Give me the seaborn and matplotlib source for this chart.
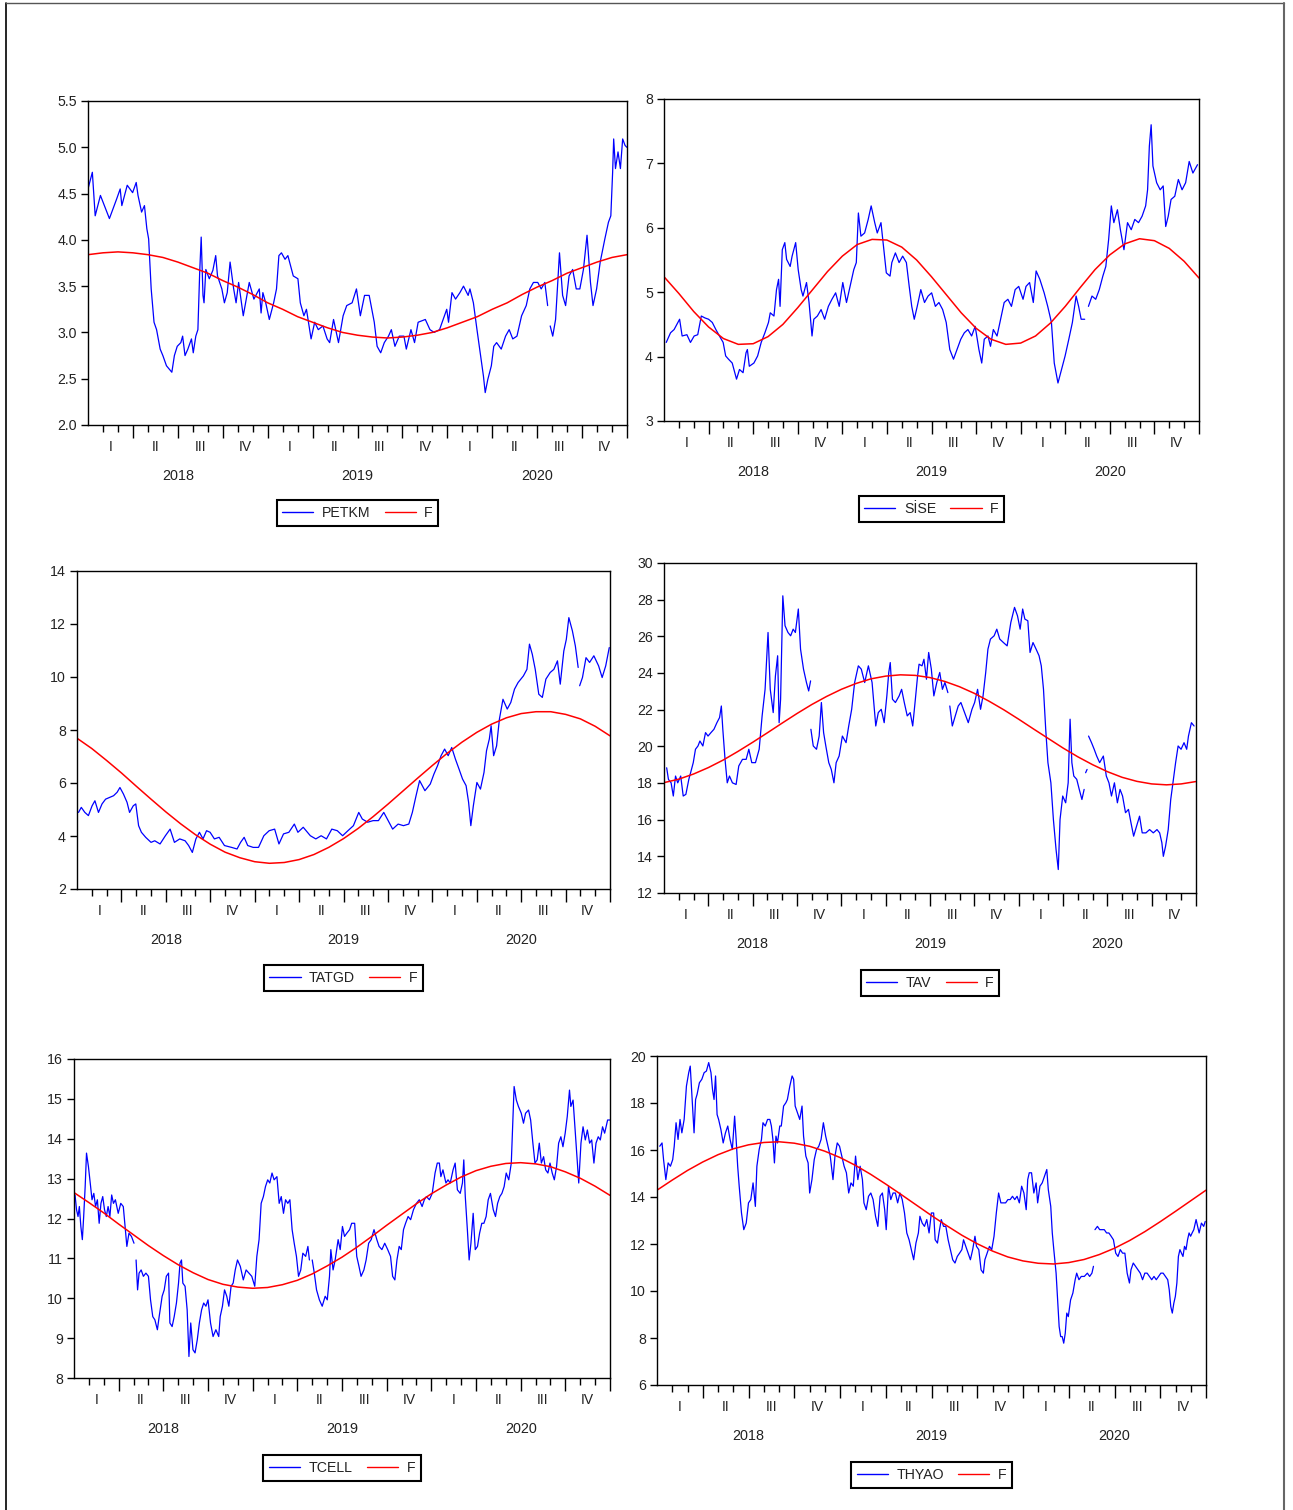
import numpy as np
import pandas as pd
import matplotlib
matplotlib.use("Agg")
import matplotlib.pyplot as plt
import seaborn as sns
from matplotlib.lines import Line2D

nan = np.nan

# time axis in months from Jan 2018 (0) to end of 2020 (36)
months = list(range(37))
quarter_labels = ["I", "II", "III", "IV"] * 3
year_labels = ["2018", "2019", "2020"]

# ---- PETKM ----
petkm_t = [0, 0.29, 0.48, 0.83, 1.19, 1.43, 1.91, 2.15, 2.26, 2.62,
           2.98, 3.22, 3.34, 3.58, 3.77, 3.93, 4.05, 4.22, 4.41, 4.58,
           4.82, 5.0, 5.24, 5.6, 5.77, 5.96, 6.2, 6.32, 6.48, 6.67,
           6.91, 7.03, 7.2, 7.34, 7.46, 7.56, 7.68, 7.75, 7.87, 8.1,
           8.34, 8.53, 8.65, 8.94, 9.11, 9.3, 9.49, 9.73, 9.89, 10.06,
           10.37, 10.61, 10.77, 11.08, 11.44, 11.56, 11.68, 11.87, 12.11, 12.4,
           12.59, 12.75, 12.92, 13.16, 13.35, 13.71, 14.02, 14.18, 14.42, 14.59,
           14.9, 15.14, 15.38, 15.69, 15.97, 16.14, 16.4, 16.73, 17.04, 17.28,
           17.64, 17.93, 18.19, 18.47, 18.78, 19.12, 19.31, 19.55, 19.79, 20.07,
           20.26, 20.5, 20.79, 21.1, 21.26, 21.57, 21.81, 22.05, 22.53, 22.84,
           23.12, 23.48, 23.72, 23.96, 24.08, 24.31, 24.55, 24.84, 25.08, 25.39,
           25.51, 25.74, 25.98, 26.22, 26.41, 26.53, 26.7, 26.94, 27.1, 27.29,
           27.6, 27.89, 28.13, 28.37, 28.65, 28.96, 29.27, 29.51, 29.75, 30.04,
           30.27, 30.51, 30.7, 30.78, 30.87, 31.04, 31.23, 31.39, 31.49, 31.7,
           31.9, 32.13, 32.37, 32.61, 32.85, 33.09, 33.33, 33.56, 33.73, 33.97,
           34.21, 34.52, 34.76, 34.92, 35.04, 35.11, 35.23, 35.4, 35.56, 35.71,
           35.87, 35.99]
petkm = [4.55, 4.73, 4.26, 4.48, 4.33, 4.23, 4.44, 4.55, 4.37, 4.59,
         4.51, 4.62, 4.48, 4.30, 4.37, 4.12, 4.01, 3.47, 3.11, 3.03,
         2.82, 2.75, 2.64, 2.57, 2.75, 2.85, 2.89, 2.96, 2.75, 2.82,
         2.93, 2.78, 2.96, 3.03, 3.65, 4.03, 3.40, 3.32, 3.68, 3.58,
         3.67, 3.83, 3.61, 3.47, 3.32, 3.43, 3.76, 3.47, 3.32, 3.54,
         3.18, 3.40, 3.54, 3.36, 3.47, 3.21, 3.43, 3.32, 3.14, 3.32,
         3.47, 3.83, 3.86, 3.79, 3.83, 3.61, 3.58, 3.32, 3.18, 3.25,
         2.93, 3.11, 3.03, 3.07, 2.93, 2.89, 3.14, 2.89, 3.18, 3.29,
         3.32, 3.47, 3.18, 3.40, 3.40, 3.11, 2.85, 2.78, 2.89, 2.96,
         3.03, 2.85, 2.96, 2.96, 2.82, 3.03, 2.89, 3.11, 3.14, 3.03,
         3.00, 3.03, 3.14, 3.25, 3.11, 3.43, 3.36, 3.43, 3.50, 3.40,
         3.47, 3.32, 3.03, 2.75, 2.53, 2.35, 2.49, 2.64, 2.85, 2.89,
         2.82, 2.96, 3.03, 2.93, 2.96, 3.18, 3.29, 3.47, 3.54, 3.54,
         3.47, 3.54, 3.29, nan, 3.07, 2.96, 3.14, 3.58, 3.86, 3.40,
         3.29, 3.61, 3.68, 3.47, 3.47, 3.68, 4.05, 3.54, 3.29, 3.47,
         3.76, 4.01, 4.19, 4.26, 4.73, 5.09, 4.77, 4.95, 4.77, 5.09,
         5.02, 5.00]
petkm_f = [3.84, 3.86, 3.87, 3.86, 3.84, 3.81, 3.76, 3.70, 3.64, 3.56,
           3.49, 3.41, 3.32, 3.25, 3.17, 3.11, 3.05, 3.00, 2.97, 2.95,
           2.94, 2.95, 2.97, 3.00, 3.05, 3.11, 3.17, 3.25, 3.32, 3.41,
           3.49, 3.56, 3.64, 3.70, 3.76, 3.81, 3.84]

# ---- SISE ----
sise_t = [0.15, 0.44, 0.68, 0.93, 1.05, 1.22, 1.54, 1.78, 2.03, 2.27,
          2.51, 2.76, 3.0, 3.25, 3.49, 3.73, 3.98, 4.15, 4.34, 4.59,
          4.88, 5.08, 5.32, 5.52, 5.61, 5.74, 6.05, 6.3, 6.54, 6.79,
          7.03, 7.15, 7.4, 7.57, 7.71, 7.81, 7.96, 8.13, 8.25, 8.49,
          8.62, 8.86, 9.03, 9.23, 9.35, 9.59, 9.76, 9.96, 10.08, 10.32,
          10.57, 10.81, 11.06, 11.3, 11.55, 11.79, 12.03, 12.28, 12.52, 12.77,
          12.94, 13.08, 13.25, 13.5, 13.74, 13.94, 14.18, 14.35, 14.6, 14.79,
          14.96, 15.21, 15.33, 15.57, 15.82, 16.06, 16.31, 16.5, 16.67, 16.84,
          17.04, 17.28, 17.53, 17.77, 18.01, 18.26, 18.5, 18.75, 18.99, 19.23,
          19.48, 19.72, 19.97, 20.21, 20.45, 20.7, 20.94, 21.19, 21.38, 21.55,
          21.8, 21.97, 22.16, 22.41, 22.65, 22.89, 23.14, 23.38, 23.63, 23.87,
          24.16, 24.36, 24.6, 24.85, 25.04, 25.29, 25.58, 25.82, 26.07, 26.26,
          26.51, 26.75, 26.99, 27.24, 27.48, 27.73, 27.9, 28.07, 28.31, 28.43, 28.56,
          28.8, 29.05, 29.29, 29.53, 29.73, 29.92, 30.1, 30.27, 30.51, 30.71,
          30.95, 31.19, 31.44, 31.68, 31.93, 32.17, 32.41, 32.54, 32.66, 32.78,
          32.9, 33.15, 33.39, 33.59, 33.76, 33.93, 34.12, 34.37, 34.61, 34.86,
          35.1, 35.34, 35.59, 35.9]
sise = [4.22, 4.37, 4.42, 4.53, 4.58, 4.32, 4.34, 4.22, 4.32, 4.34,
        4.63, 4.60, 4.58, 4.53, 4.42, 4.32, 4.22, 4.01, 3.96, 3.90,
        3.65, 3.80, 3.75, 4.06, 4.11, 3.85, 3.90, 4.01, 4.22, 4.37,
        4.53, 4.68, 4.63, 5.04, 5.20, 4.78, 5.66, 5.77, 5.51, 5.40,
        5.56, 5.77, 5.35, 5.04, 4.94, 5.15, 4.84, 4.32, 4.58, 4.63,
        4.73, 4.58, 4.78, 4.89, 4.99, 4.78, 5.15, 4.84, 5.09, 5.35,
        5.46, 6.23, 5.87, 5.92, 6.13, 6.34, 6.08, 5.92, 6.08, 5.66,
        5.30, 5.25, 5.46, 5.61, 5.46, 5.56, 5.46, 5.09, 4.78, 4.58,
        4.78, 5.04, 4.84, 4.94, 4.99, 4.78, 4.84, 4.73, 4.53, 4.11,
        3.96, 4.11, 4.27, 4.37, 4.42, 4.32, 4.47, 4.11, 3.90, 4.27,
        4.32, 4.16, 4.42, 4.32, 4.58, 4.84, 4.89, 4.78, 5.04, 5.09,
        4.89, 5.09, 5.15, 4.84, 5.33, 5.20, 4.99, 4.78, 4.53, 3.90,
        3.59, 3.80, 4.01, 4.27, 4.53, 4.94, 4.78, 4.58, 4.58, nan, 4.78,
        4.94, 4.89, 5.04, 5.25, 5.40, 5.82, 6.34, 6.08, 6.28, 5.97,
        5.66, 6.08, 5.97, 6.13, 6.08, 6.18, 6.34, 6.59, 7.27, 7.60,
        6.96, 6.70, 6.59, 6.65, 6.02, 6.18, 6.44, 6.49, 6.75, 6.59,
        6.70, 7.03, 6.85, 6.98]
sise_f = [5.24, 4.98, 4.70, 4.46, 4.28, 4.19, 4.20, 4.31, 4.50, 4.76,
          5.04, 5.32, 5.56, 5.74, 5.82, 5.81, 5.70, 5.50, 5.24, 4.96,
          4.68, 4.44, 4.27, 4.19, 4.21, 4.32, 4.52, 4.78, 5.07, 5.35,
          5.58, 5.75, 5.83, 5.80, 5.68, 5.48, 5.22]

# ---- TATGD ----
tatgd_t = [0.1, 0.29, 0.53, 0.77, 1.02, 1.21, 1.45, 1.69, 1.93, 2.22,
           2.47, 2.71, 2.9, 3.14, 3.38, 3.55, 3.8, 3.97, 4.16, 4.35,
           4.64, 5.0, 5.25, 5.61, 5.97, 6.29, 6.58, 6.94, 7.3, 7.54,
           7.79, 8.03, 8.27, 8.51, 8.75, 8.99, 9.28, 9.6, 9.96, 10.44,
           10.81, 11.05, 11.29, 11.53, 11.9, 12.26, 12.62, 12.98, 13.35, 13.64,
           13.95, 14.31, 14.68, 14.92, 15.28, 15.76, 16.13, 16.49, 16.85, 17.21,
           17.58, 17.94, 18.3, 18.67, 19.03, 19.27, 19.63, 20.0, 20.36, 20.72,
           20.96, 21.32, 21.69, 22.05, 22.41, 22.65, 22.9, 23.14, 23.5, 23.86,
           24.11, 24.35, 24.59, 24.83, 25.07, 25.31, 25.56, 25.8, 26.04, 26.28,
           26.45, 26.6, 26.77, 27.01, 27.25, 27.49, 27.66, 27.85, 27.97, 28.14,
           28.34, 28.53, 28.77, 29.06, 29.3, 29.55, 29.79, 30.15, 30.39, 30.56,
           30.75, 30.95, 31.19, 31.43, 31.67, 31.96, 32.21, 32.45, 32.64, 32.88,
           33.05, 33.22, 33.46, 33.66, 33.85, 33.9, 33.95, 34.14, 34.38, 34.62, 34.91,
           35.23, 35.47, 35.71, 35.95]
tatgd = [4.89, 5.08, 4.89, 4.77, 5.14, 5.33, 4.89, 5.21, 5.39, 5.46,
         5.52, 5.65, 5.83, 5.58, 5.27, 4.89, 5.14, 5.21, 4.39, 4.14,
         3.95, 3.76, 3.82, 3.70, 4.01, 4.26, 3.76, 3.89, 3.82, 3.64,
         3.38, 3.89, 4.14, 3.89, 4.20, 4.14, 3.89, 3.95, 3.64, 3.57,
         3.51, 3.76, 3.95, 3.64, 3.57, 3.57, 4.01, 4.20, 4.26, 3.70,
         4.08, 4.14, 4.45, 4.14, 4.33, 4.01, 3.89, 4.01, 3.89, 4.26,
         4.20, 4.01, 4.20, 4.39, 4.89, 4.64, 4.52, 4.58, 4.58, 4.89,
         4.64, 4.26, 4.45, 4.39, 4.45, 4.89, 5.52, 6.09, 5.71, 5.96,
         6.34, 6.65, 7.03, 7.28, 7.03, 7.34, 6.90, 6.53, 6.15, 5.90,
         5.27, 4.39, 5.14, 6.02, 5.77, 6.40, 7.22, 7.66, 8.16, 7.03,
         7.40, 8.41, 9.16, 8.79, 9.04, 9.54, 9.79, 10.04, 10.29, 11.24,
         10.86, 10.29, 9.35, 9.23, 9.92, 10.17, 10.29, 10.61, 9.73, 10.98,
         11.42, 12.24, 11.74, 11.17, 10.36, nan, 9.67, 9.98, 10.73, 10.55, 10.80,
         10.42, 9.98, 10.42, 11.11]
tatgd_f = [7.69, 7.30, 6.85, 6.38, 5.88, 5.39, 4.91, 4.46, 4.05, 3.69,
           3.39, 3.18, 3.03, 2.97, 3.00, 3.11, 3.30, 3.57, 3.90, 4.29,
           4.73, 5.20, 5.69, 6.18, 6.66, 7.12, 7.54, 7.91, 8.22, 8.46,
           8.62, 8.69, 8.69, 8.59, 8.42, 8.14, 7.78]

# ---- TAV ----
tav_t = [0.18, 0.3, 0.48, 0.63, 0.78, 0.93, 1.13, 1.3, 1.48, 1.68,
         1.8, 1.98, 2.13, 2.3, 2.43, 2.63, 2.81, 2.98, 3.18, 3.38,
         3.58, 3.76, 3.88, 3.98, 4.13, 4.28, 4.43, 4.63, 4.88, 5.06,
         5.31, 5.56, 5.74, 5.94, 6.19, 6.44, 6.64, 6.84, 7.04, 7.19,
         7.39, 7.54, 7.69, 7.79, 7.89, 8.04, 8.19, 8.39, 8.57, 8.74,
         8.89, 9.09, 9.24, 9.44, 9.64, 9.79, 9.92, 9.93, 9.94, 10.1,
         10.32, 10.5, 10.65, 10.8, 10.95, 11.15, 11.32, 11.5, 11.65, 11.85,
         12.07, 12.32, 12.5, 12.7, 12.9, 13.15, 13.35, 13.58, 13.83, 14.08,
         14.33, 14.5, 14.7, 14.9, 15.08, 15.21, 15.31, 15.46, 15.66, 15.91,
         16.08, 16.26, 16.46, 16.66, 16.83, 17.01, 17.16, 17.26, 17.46, 17.59,
         17.76, 17.91, 18.09, 18.26, 18.46, 18.66, 18.84, 19.01, 19.21, 19.28,
         19.34, 19.51, 19.71, 19.91, 20.09, 20.34, 20.59, 20.84, 21.02, 21.22,
         21.42, 21.59, 21.77, 21.92, 22.09, 22.34, 22.52, 22.72, 22.97, 23.22,
         23.47, 23.72, 23.92, 24.1, 24.27, 24.42, 24.62, 24.77, 24.97, 25.18,
         25.38, 25.53, 25.68, 25.83, 25.98, 26.18, 26.35, 26.53, 26.68, 26.8,
         26.98, 27.18, 27.35, 27.48, 27.6, 27.73, 27.93, 28.1, 28.28, 28.43,
         28.48, 28.53, 28.63, 28.68, 28.73, 28.93, 29.11, 29.28, 29.48, 29.73,
         29.93, 30.11, 30.28, 30.48, 30.68, 30.86, 31.03, 31.23, 31.43, 31.6,
         31.78, 31.98, 32.18, 32.36, 32.61, 32.86, 33.11, 33.36, 33.54, 33.69,
         33.79, 33.94, 34.12, 34.29, 34.44, 34.62, 34.79, 34.99, 35.19, 35.37,
         35.49, 35.69, 35.87]
tav = [18.83, 18.20, 18.01, 17.29, 18.38, 18.01, 18.38, 17.29, 17.38, 18.20,
       18.56, 19.11, 19.84, 20.02, 20.29, 20.02, 20.75, 20.56, 20.75, 20.93,
       21.29, 21.57, 22.20, 20.93, 19.29, 18.01, 18.38, 18.01, 17.92, 18.93,
       19.29, 19.29, 19.84, 19.11, 19.11, 19.84, 21.66, 23.11, 26.21, 23.11,
       21.84, 23.84, 24.94, 21.29, 22.57, 28.21, 26.58, 26.21, 26.03, 26.39,
       26.21, 27.49, 25.30, 24.21, 23.48, 23.02, 23.57, nan, 20.93, 20.02,
       19.84, 20.56, 22.39, 20.75, 20.02, 19.11, 18.74, 18.01, 19.11, 19.47,
       20.56, 20.20, 21.11, 22.02, 23.48, 24.39, 24.21, 23.48, 24.39, 23.48,
       21.11, 21.84, 22.02, 21.29, 22.75, 24.03, 24.57, 22.57, 22.39, 22.75,
       23.11, 22.39, 21.66, 21.84, 21.11, 22.57, 23.84, 24.48, 24.39, 24.75,
       23.66, 25.12, 24.21, 22.75, 23.48, 24.03, 23.11, 23.48, 22.93, nan,
       22.20, 21.11, 21.66, 22.20, 22.39, 21.84, 21.29, 22.02, 22.39, 23.11,
       22.02, 22.75, 24.03, 25.30, 25.85, 26.03, 26.39, 25.85, 25.66, 25.48,
       26.76, 27.58, 27.12, 26.39, 27.49, 26.94, 26.85, 25.12, 25.66, 25.30,
       24.94, 24.39, 23.11, 20.93, 19.11, 18.01, 16.01, 14.37, 13.28, 16.01,
       17.29, 16.92, 18.01, 21.48, 19.11, 18.38, 18.20, 17.65, 17.10, 17.65,
       nan, 18.56, 18.74, nan, 20.56, 20.20, 19.84, 19.47, 19.11, 19.47,
       18.38, 18.01, 17.29, 18.01, 16.92, 17.65, 17.29, 16.38, 16.56, 15.83,
       15.10, 15.65, 16.19, 15.28, 15.28, 15.46, 15.28, 15.46, 15.28, 14.74,
       14.00, 14.55, 15.46, 17.10, 18.01, 19.11, 20.02, 19.84, 20.20, 19.84,
       20.56, 21.29, 21.11]
tav_f = [18.02, 18.21, 18.49, 18.84, 19.25, 19.72, 20.22, 20.74, 21.27, 21.79,
         22.28, 22.72, 23.11, 23.43, 23.68, 23.83, 23.90, 23.87, 23.75, 23.54,
         23.25, 22.89, 22.46, 21.99, 21.48, 20.95, 20.43, 19.91, 19.43, 19.00,
         18.62, 18.31, 18.09, 17.95, 17.90, 17.95, 18.08]

# ---- TCELL ----
tcell_t = [0.07, 0.17, 0.27, 0.36, 0.46, 0.56, 0.65, 0.75, 0.84, 0.97,
           1.09, 1.21, 1.33, 1.45, 1.57, 1.69, 1.81, 1.93, 2.05, 2.17,
           2.29, 2.41, 2.53, 2.65, 2.78, 2.97, 3.14, 3.31, 3.45, 3.55,
           3.69, 3.86, 4.03, 4.1, 4.17, 4.27, 4.37, 4.51, 4.66, 4.83,
           5.0, 5.14, 5.29, 5.43, 5.6, 5.72, 5.92, 6.06, 6.2, 6.35,
           6.44, 6.59, 6.73, 6.88, 7.02, 7.12, 7.22, 7.31, 7.46, 7.6,
           7.72, 7.84, 7.99, 8.13, 8.28, 8.42, 8.57, 8.71, 8.86, 9.0,
           9.17, 9.34, 9.53, 9.72, 9.82, 9.97, 10.11, 10.26, 10.4, 10.55,
           10.69, 10.83, 10.98, 11.17, 11.37, 11.56, 11.75, 11.94, 12.14, 12.28,
           12.43, 12.57, 12.72, 12.86, 13.01, 13.15, 13.3, 13.44, 13.63, 13.78,
           13.92, 14.07, 14.21, 14.36, 14.5, 14.65, 14.79, 14.94, 15.08, 15.23,
           15.37, 15.56, 15.71, 15.81, 15.9, 16.0, 16.14, 16.29, 16.48, 16.67,
           16.87, 17.01, 17.16, 17.25, 17.4, 17.54, 17.74, 17.88, 18.03, 18.17,
           18.32, 18.51, 18.65, 18.85, 18.99, 19.14, 19.28, 19.47, 19.62, 19.79,
           19.96, 20.15, 20.34, 20.49, 20.68, 20.87, 21.07, 21.26, 21.4, 21.55,
           21.69, 21.84, 21.98, 22.13, 22.27, 22.44, 22.61, 22.8, 23.0, 23.19,
           23.38, 23.53, 23.67, 23.87, 24.06, 24.25, 24.4, 24.54, 24.64, 24.78,
           24.98, 25.12, 25.27, 25.46, 25.6, 25.75, 25.94, 26.09, 26.18, 26.28,
           26.42, 26.54, 26.66, 26.81, 26.95, 27.1, 27.24, 27.39, 27.53, 27.68,
           27.82, 27.97, 28.16, 28.31, 28.45, 28.6, 28.74, 28.89, 29.03, 29.2,
           29.37, 29.46, 29.56, 29.71, 29.85, 30.04, 30.19, 30.33, 30.53, 30.67,
           30.82, 30.96, 31.11, 31.25, 31.39, 31.54, 31.68, 31.83, 31.97, 32.12,
           32.26, 32.41, 32.55, 32.7, 32.84, 32.99, 33.13, 33.28, 33.37, 33.52,
           33.66, 33.81, 33.9, 34.05, 34.19, 34.34, 34.48, 34.63, 34.77, 34.92,
           35.06, 35.21, 35.35, 35.5, 35.64, 35.84, 36.0]
tcell = [12.59, 12.22, 12.05, 12.30, 11.80, 11.47, 12.05, 12.80, 13.64, 13.30,
         12.89, 12.47, 12.63, 12.30, 12.47, 11.88, 12.38, 12.55, 12.22, 12.05,
         12.30, 12.05, 12.59, 12.38, 12.47, 12.13, 12.38, 12.30, 11.72, 11.30,
         11.63, 11.55, 11.38, nan, 10.96, 10.21, 10.63, 10.71, 10.55, 10.63,
         10.55, 9.96, 9.54, 9.46, 9.21, 9.54, 10.05, 10.21, 10.55, 10.63,
         9.38, 9.29, 9.54, 9.88, 10.38, 10.88, 10.96, 10.38, 10.30, 9.71,
         8.54, 9.38, 8.71, 8.63, 8.96, 9.38, 9.71, 9.88, 9.80, 9.96,
         9.38, 9.04, 9.21, 9.04, 9.54, 9.80, 10.21, 10.05, 9.80, 10.30,
         10.38, 10.71, 10.96, 10.80, 10.46, 10.71, 10.63, 10.55, 10.30, 11.05,
         11.47, 12.38, 12.55, 12.80, 12.97, 12.89, 13.14, 12.97, 13.05, 12.38,
         12.55, 12.13, 12.47, 12.38, 12.47, 11.72, 11.38, 11.05, 10.55, 10.71,
         11.13, 11.05, 11.30, 10.96, nan, 10.96, 10.63, 10.21, 9.96, 9.80,
         10.05, 9.96, 10.55, 11.22, 10.71, 10.96, 11.47, 11.22, 11.80, 11.55,
         11.63, 11.72, 11.88, 11.88, 11.05, 10.80, 10.55, 10.71, 10.96, 11.38,
         11.47, 11.72, 11.47, 11.30, 11.22, 11.38, 11.22, 11.05, 10.55, 10.46,
         10.96, 11.30, 11.22, 11.72, 11.88, 12.05, 11.97, 12.22, 12.38, 12.47,
         12.30, 12.47, 12.55, 12.47, 12.63, 13.14, 13.39, 13.39, 13.05, 13.22,
         12.89, 12.97, 12.89, 13.22, 13.39, 12.72, 12.63, 12.89, 13.47, 12.55,
         11.72, 10.96, 11.38, 12.13, 11.22, 11.30, 11.63, 11.88, 11.88, 12.05,
         12.47, 12.63, 12.22, 12.05, 12.38, 12.55, 12.63, 12.80, 13.14, 12.97,
         13.39, 14.30, 15.31, 14.97, 14.81, 14.64, 14.39, 14.64, 14.72, 14.47,
         13.89, 13.39, 13.47, 13.89, 13.39, 13.55, 13.22, 13.14, 13.39, 13.14,
         12.97, 13.30, 13.89, 14.05, 13.80, 14.14, 14.56, 15.22, 14.81, 14.97,
         14.22, 13.39, 12.89, 13.89, 14.30, 13.97, 14.22, 13.89, 13.97, 13.39,
         13.89, 14.05, 13.97, 14.30, 14.14, 14.47, 14.47]
tcell_f = [12.65, 12.40, 12.14, 11.86, 11.59, 11.32, 11.07, 10.84, 10.64, 10.47,
           10.35, 10.28, 10.25, 10.27, 10.34, 10.45, 10.61, 10.81, 11.03, 11.28,
           11.55, 11.83, 12.10, 12.37, 12.62, 12.84, 13.04, 13.20, 13.31, 13.38,
           13.40, 13.37, 13.30, 13.17, 13.01, 12.81, 12.58]

# ---- THYAO ----
thyao_t = [0.18, 0.33, 0.43, 0.58, 0.73, 0.88, 1.03, 1.13, 1.25, 1.38,
           1.51, 1.63, 1.78, 1.93, 2.08, 2.18, 2.33, 2.43, 2.53, 2.63,
           2.78, 2.94, 3.09, 3.24, 3.39, 3.54, 3.64, 3.74, 3.84, 3.94,
           4.04, 4.19, 4.34, 4.49, 4.64, 4.79, 4.94, 5.09, 5.19, 5.29,
           5.39, 5.54, 5.69, 5.85, 6.0, 6.15, 6.3, 6.45, 6.55, 6.7,
           6.85, 6.95, 7.1, 7.25, 7.4, 7.5, 7.6, 7.7, 7.8, 7.9,
           8.05, 8.15, 8.3, 8.45, 8.55, 8.71, 8.86, 8.96, 9.06, 9.21,
           9.36, 9.51, 9.61, 9.76, 9.91, 10.01, 10.16, 10.31, 10.46, 10.61,
           10.76, 10.91, 11.06, 11.21, 11.36, 11.54, 11.67, 11.82, 11.97, 12.12,
           12.27, 12.42, 12.57, 12.72, 12.87, 13.02, 13.17, 13.32, 13.47, 13.57,
           13.72, 13.87, 14.02, 14.17, 14.33, 14.48, 14.63, 14.78, 14.93, 15.03,
           15.18, 15.33, 15.48, 15.63, 15.78, 15.93, 16.08, 16.23, 16.38, 16.53,
           16.68, 16.83, 16.98, 17.14, 17.24, 17.39, 17.54, 17.69, 17.84, 17.99,
           18.14, 18.24, 18.39, 18.49, 18.64, 18.79, 18.94, 19.09, 19.24, 19.39,
           19.54, 19.69, 19.84, 19.99, 20.1, 20.25, 20.4, 20.55, 20.7, 20.85,
           20.95, 21.1, 21.25, 21.4, 21.5, 21.65, 21.8, 21.95, 22.1, 22.25,
           22.4, 22.55, 22.7, 22.86, 23.01, 23.16, 23.31, 23.46, 23.61, 23.76,
           23.91, 24.06, 24.21, 24.31, 24.41, 24.56, 24.71, 24.86, 24.96, 25.11,
           25.26, 25.41, 25.56, 25.66, 25.82, 25.92, 26.02, 26.17, 26.27, 26.37,
           26.47, 26.57, 26.67, 26.77, 26.87, 26.97, 27.12, 27.27, 27.42, 27.52,
           27.67, 27.82, 28.02, 28.22, 28.37, 28.52, 28.62, 28.67, 28.72, 28.88,
           29.03, 29.18, 29.33, 29.48, 29.63, 29.78, 29.93, 30.08, 30.23, 30.38,
           30.53, 30.68, 30.83, 30.98, 31.08, 31.23, 31.38, 31.54, 31.69, 31.84,
           31.99, 32.14, 32.29, 32.44, 32.59, 32.74, 32.89, 33.04, 33.19, 33.34,
           33.49, 33.59, 33.69, 33.79, 33.89, 33.99, 34.09, 34.19, 34.29, 34.39,
           34.49, 34.59, 34.69, 34.79, 34.89, 34.99, 35.09, 35.2, 35.35, 35.45,
           35.55, 35.7, 35.85, 35.95]
thyao = [16.16, 16.30, 15.59, 14.74, 15.45, 15.31, 15.59, 16.16, 17.16, 16.45,
         17.30, 16.73, 17.30, 18.72, 19.29, 19.57, 17.87, 16.73, 18.15, 18.37,
         18.86, 19.01, 19.29, 19.36, 19.72, 19.29, 18.58, 18.15, 19.15, 17.51,
         17.30, 16.87, 16.30, 16.73, 17.02, 16.45, 16.02, 17.44, 16.45, 15.31,
         14.46, 13.32, 12.61, 12.89, 13.75, 13.89, 14.60, 13.60, 15.31, 16.02,
         16.45, 17.16, 17.02, 17.30, 17.30, 17.02, 16.45, 15.45, 16.59, 16.30,
         17.02, 17.02, 17.87, 18.01, 18.15, 18.72, 19.15, 19.01, 17.87, 17.58,
         17.30, 17.87, 16.59, 15.74, 15.45, 14.17, 14.74, 15.59, 16.02, 16.16,
         16.45, 17.16, 16.59, 16.16, 15.74, 14.74, 15.74, 16.30, 16.16, 15.74,
         15.31, 15.03, 14.17, 14.60, 14.46, 15.74, 14.74, 15.31, 14.74, 13.75,
         13.46, 14.03, 14.17, 13.89, 13.18, 12.75, 14.03, 14.17, 13.46, 12.61,
         14.46, 13.89, 14.17, 14.17, 13.75, 14.17, 13.89, 13.32, 12.47, 12.18,
         11.76, 11.33, 12.04, 12.47, 13.18, 12.89, 12.75, 13.04, 12.47, 13.32,
         13.32, 12.18, 12.04, 12.47, 13.04, 12.75, 12.75, 12.18, 11.76, 11.33,
         11.19, 11.47, 11.61, 11.76, 12.18, 11.90, 11.61, 11.33, 11.76, 12.33,
         11.90, 11.76, 10.90, 10.76, 11.33, 11.61, 11.90, 11.76, 12.33, 13.32,
         14.17, 13.75, 13.75, 13.75, 13.89, 13.89, 14.03, 13.89, 14.03, 13.75,
         14.46, 14.17, 13.46, 14.74, 15.03, 15.03, 14.17, 14.60, 13.75, 14.46,
         14.60, 14.88, 15.17, 14.31, 13.60, 12.47, 11.76, 10.76, 9.62, 8.49,
         8.06, 8.06, 7.78, 8.20, 9.06, 8.91, 9.62, 9.91, 10.48, 10.76,
         10.48, 10.62, 10.62, 10.76, 10.62, 10.76, 11.05, nan, 12.61, 12.75,
         12.61, 12.61, 12.61, 12.47, 12.47, 12.33, 12.18, 11.61, 11.47, 11.76,
         11.61, 11.61, 10.76, 10.34, 10.90, 11.19, 11.05, 10.90, 10.76, 10.48,
         10.76, 10.76, 10.62, 10.48, 10.62, 10.48, 10.62, 10.76, 10.76, 10.62,
         10.48, 10.05, 9.34, 9.06, 9.48, 9.77, 10.34, 11.47, 11.76, 11.61,
         11.47, 11.90, 11.76, 12.18, 12.47, 12.33, 12.47, 12.61, 13.04, 12.75,
         12.47, 12.89, 12.75, 12.96]
thyao_f = [14.29, 14.72, 15.13, 15.49, 15.80, 16.05, 16.22, 16.32, 16.35, 16.29,
           16.16, 15.95, 15.68, 15.35, 14.97, 14.55, 14.11, 13.66, 13.21, 12.78,
           12.37, 12.01, 11.70, 11.45, 11.28, 11.18, 11.15, 11.21, 11.34, 11.55,
           11.82, 12.15, 12.53, 12.95, 13.39, 13.84, 14.29]

sns.set_style("ticks")
plt.rcParams["font.family"] = ["Liberation Sans", "DejaVu Sans"]

W, H = 1293, 1510
fig = plt.figure(figsize=(W / 100, H / 100), dpi=100)

# name, t, values, fit, box (left, top, right, bottom in px), y-limits, ytick step, label format, legend offset px
panels = [
    ("PETKM", petkm_t, petkm, petkm_f, (88, 101, 627, 425), (2.0, 5.5), 0.5, "{:.1f}", 88),
    ("SİSE", sise_t, sise, sise_f, (664, 99, 1199, 421), (3, 8), 1, "{:.0f}", 88),
    ("TATGD", tatgd_t, tatgd, tatgd_f, (77, 571, 610, 889), (2, 14), 2, "{:.0f}", 89),
    ("TAV", tav_t, tav, tav_f, (664, 563, 1196, 893), (12, 30), 2, "{:.0f}", 90),
    ("TCELL", tcell_t, tcell, tcell_f, (74, 1059, 610, 1378), (8, 16), 1, "{:.0f}", 90),
    ("THYAO", thyao_t, thyao, thyao_f, (657, 1056, 1206, 1385), (6, 20), 2, "{:.0f}", 90),
]

txt = "#222222"
for name, t, v, f, box, ylim, step, fmt, leg_off in panels:
    l, tp, r, b = box
    ax = fig.add_axes([l / W, 1 - b / H, (r - l) / W, (b - tp) / H])
    df = pd.DataFrame({"t": t, "v": v})
    df["seg"] = df["v"].isna().cumsum()
    df = df.dropna()
    sns.lineplot(data=df, x="t", y="v", units="seg", estimator=None, sort=False,
                 color="#0000ff", linewidth=0.9, ax=ax, legend=False)
    sns.lineplot(x=months, y=f, color="#ff0000", linewidth=1.1, ax=ax, legend=False)

    ax.set_xlim(0, 36)
    ax.set_ylim(*ylim)
    ax.set_xlabel("")
    ax.set_ylabel("")
    yt = np.arange(ylim[0], ylim[1] + step / 2, step)
    ax.set_yticks(yt)
    ax.set_yticklabels([fmt.format(y) for y in yt], fontsize=10.2, color=txt)
    ax.set_xticks(range(3, 37, 3))
    ax.set_xticks([m for m in range(1, 36) if m % 3], minor=True)
    ax.tick_params(axis="x", which="major", length=9, width=1, color="black",
                   labelbottom=False, bottom=True)
    ax.tick_params(axis="x", which="minor", length=5, width=1, color="black", bottom=True)
    ax.tick_params(axis="y", which="major", length=5, width=1, color="black", pad=3, left=True)
    for s in ax.spines.values():
        s.set_color("black")
        s.set_linewidth(1.0)
        s.set_visible(True)

    hpx = b - tp
    for i, q in enumerate(quarter_labels):
        ax.annotate(q, xy=(1.5 + 3 * i, 0), xycoords=("data", "axes fraction"),
                    xytext=(0, -22), textcoords="offset pixels",
                    ha="center", va="center", fontsize=10, color=txt)
    for i, y in enumerate(year_labels):
        ax.annotate(y, xy=(6 + 12 * i, 0), xycoords=("data", "axes fraction"),
                    xytext=(0, -51), textcoords="offset pixels",
                    ha="center", va="center", fontsize=10.4, color=txt)

    handles = [Line2D([], [], color="#0000ff", lw=1.0), Line2D([], [], color="#ff0000", lw=1.0)]
    leg = ax.legend(handles, [name, "F"], loc="center", bbox_to_anchor=(0.5, -leg_off / hpx),
                    ncol=2, frameon=True, fancybox=False, edgecolor="black", framealpha=1,
                    fontsize=10.2, handlelength=2.2, handletextpad=0.6, columnspacing=1.0,
                    borderpad=0.4, borderaxespad=0)
    leg.get_frame().set_linewidth(1.5)
    for tx in leg.get_texts():
        tx.set_color(txt)

# outer frame of the page
fig.add_artist(Line2D([6 / W, 6 / W], [1 - 3 / H, 0], transform=fig.transFigure, color="black", lw=1.2))
fig.add_artist(Line2D([6 / W, 1284 / W], [1 - 3 / H, 1 - 3 / H], transform=fig.transFigure, color="#555555", lw=1.0))
fig.add_artist(Line2D([1284 / W, 1284 / W], [1 - 3 / H, 0], transform=fig.transFigure, color="#666666", lw=1.5))

fig.savefig("out.png", dpi=100)
